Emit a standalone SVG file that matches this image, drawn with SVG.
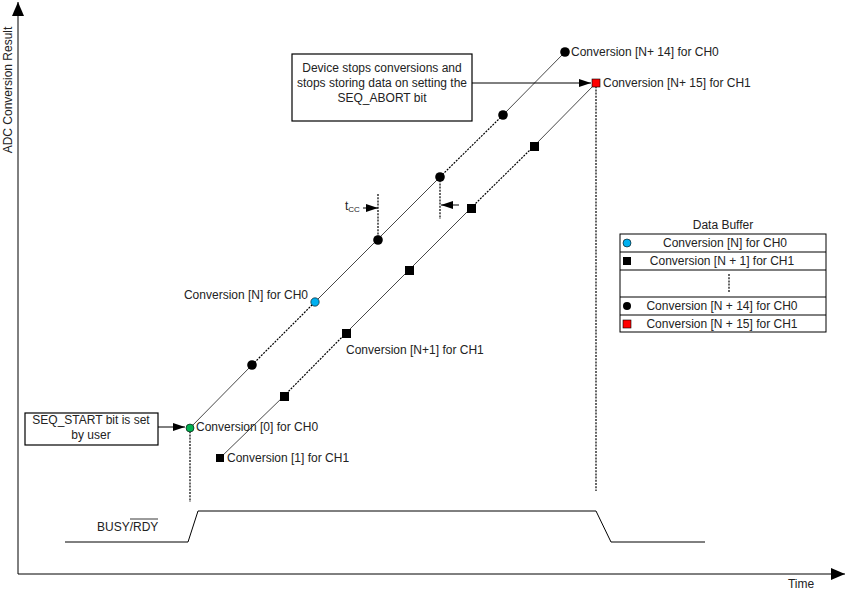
<svg xmlns="http://www.w3.org/2000/svg" width="847" height="593" viewBox="0 0 847 593">
<style>
text{font-family:"Liberation Sans",Arial,sans-serif;font-size:12px;fill:#222}
.ln{stroke:#000;stroke-width:1;fill:none}
.thin{stroke:#333;stroke-width:0.9;fill:none}
.dot{stroke:#000;stroke-width:1.2;stroke-dasharray:2,1.2;fill:none}
.box{fill:#fff;stroke:#000;stroke-width:1.2}
.pt{fill:#000}
</style>
<defs>
<marker id="ah" viewBox="0 0 12 8" refX="12" refY="4" markerWidth="12" markerHeight="8" markerUnits="userSpaceOnUse" orient="auto">
<path d="M0,0 L12,4 L0,8 Z" fill="#000"/>
</marker>
<marker id="ahBig" viewBox="0 0 14 12" refX="14" refY="6" markerWidth="14" markerHeight="12" markerUnits="userSpaceOnUse" orient="auto">
<path d="M0,0 L14,6 L0,12 Z" fill="#000"/>
</marker>
</defs>

<g id="axes">
<line class="ln" x1="18" y1="574" x2="18" y2="2" stroke-width="1.5" marker-end="url(#ahBig)"/>
<line class="ln" x1="18" y1="574" x2="845" y2="574" stroke-width="1.5" marker-end="url(#ahBig)"/>
<text x="9" y="90" text-anchor="middle" transform="rotate(-90 9 90)" dominant-baseline="middle">ADC Conversion Result</text>
<text x="801" y="588" text-anchor="middle">Time</text>
</g>

<g id="connectors">
<!-- CH0 line -->
<line class="thin" x1="190" y1="428" x2="252" y2="365"/>
<line class="dot" x1="252" y1="365" x2="315" y2="302"/>
<line class="thin" x1="315" y1="302" x2="440" y2="177"/>
<line class="dot" x1="440" y1="177" x2="503" y2="115"/>
<line class="thin" x1="503" y1="115" x2="565" y2="52"/>
<!-- CH1 line -->
<line class="thin" x1="220" y1="458" x2="284" y2="396"/>
<line class="dot" x1="284" y1="396" x2="346" y2="333"/>
<line class="thin" x1="346" y1="333" x2="471" y2="208"/>
<line class="dot" x1="471" y1="208" x2="534" y2="146"/>
<line class="thin" x1="534" y1="146" x2="596" y2="83"/>
<!-- verticals -->
<line class="dot" x1="190" y1="428" x2="190" y2="502"/>
<line class="dot" x1="596" y1="83" x2="596" y2="491"/>
<line class="dot" x1="378" y1="194" x2="378" y2="240"/>
<line class="dot" x1="440" y1="177" x2="440" y2="219"/>
<!-- tcc arrows -->
<line class="ln" x1="363" y1="208" x2="378" y2="208" marker-end="url(#ah)"/>
<line class="ln" x1="459" y1="205" x2="441" y2="205" marker-end="url(#ah)"/>
<!-- box arrows -->
<line class="ln" x1="472" y1="83" x2="591" y2="83" marker-end="url(#ah)"/>
<line class="ln" x1="158" y1="427" x2="185" y2="427" marker-end="url(#ah)"/>
<!-- BUSY/RDY waveform -->
<polyline class="ln" points="65,542 188,542 198,511 596,511 611,542 705,542"/>
</g>

<g id="ch0-points">
<circle cx="190" cy="428" r="4" fill="#00b050" stroke="#000" stroke-width="0.6"/>
<circle class="pt" cx="252" cy="365" r="4.8"/>
<circle cx="315" cy="302" r="4.2" fill="#00b0f0" stroke="#000" stroke-width="0.6"/>
<circle class="pt" cx="378" cy="240" r="4.8"/>
<circle class="pt" cx="440" cy="177" r="4.8"/>
<circle class="pt" cx="503" cy="115" r="4.8"/>
<circle class="pt" cx="565" cy="52" r="4.8"/>
</g>

<g id="ch1-points">
<rect class="pt" x="216" y="454" width="8" height="8"/>
<rect class="pt" x="280" y="392" width="9" height="9"/>
<rect class="pt" x="342" y="329" width="9" height="9"/>
<rect class="pt" x="405" y="266" width="9" height="9"/>
<rect class="pt" x="467" y="204" width="9" height="9"/>
<rect class="pt" x="530" y="142" width="9" height="9"/>
<rect x="592" y="79" width="8" height="8" fill="#ff0000" stroke="#000" stroke-width="0.6"/>
</g>

<g id="labels">
<text x="571" y="56">Conversion [N+ 14] for CH0</text>
<text x="603" y="87">Conversion [N+ 15] for CH1</text>
<text x="308" y="299" text-anchor="end">Conversion [N] for CH0</text>
<text x="346" y="354">Conversion [N+1] for CH1</text>
<text x="196" y="431">Conversion [0] for CH0</text>
<text x="227" y="462">Conversion [1] for CH1</text>
<text x="345" y="210">t<tspan font-size="8" dy="2">CC</tspan></text>
<text x="97" y="531">BUSY/RDY</text>
<line x1="130" y1="519" x2="158" y2="519" stroke="#222" stroke-width="0.9"/>
</g>

<g id="abort-box">
<rect class="box" x="292" y="54" width="180" height="67"/>
<text x="382" y="72" text-anchor="middle">Device stops conversions and</text>
<text x="382" y="87" text-anchor="middle">stops storing data on setting the</text>
<text x="382" y="102" text-anchor="middle">SEQ_ABORT bit</text>
</g>

<g id="start-box">
<rect class="box" x="25" y="413" width="133" height="32"/>
<text x="91" y="424" text-anchor="middle">SEQ_START bit is set</text>
<text x="91" y="439" text-anchor="middle">by user</text>
</g>

<g id="data-buffer">
<text x="723" y="229" text-anchor="middle">Data Buffer</text>
<rect x="620" y="234" width="206" height="98" fill="#fff" stroke="#000" stroke-width="1"/>
<line class="ln" x1="620" y1="252" x2="826" y2="252"/>
<line class="ln" x1="620" y1="270" x2="826" y2="270"/>
<line class="ln" x1="620" y1="297" x2="826" y2="297"/>
<line class="ln" x1="620" y1="315" x2="826" y2="315"/>
<line class="dot" x1="729" y1="274" x2="729" y2="292"/>
<circle cx="627" cy="243" r="4" fill="#00b0f0" stroke="#000" stroke-width="0.6"/>
<rect class="pt" x="623" y="257" width="8" height="8"/>
<circle class="pt" cx="627" cy="306" r="4"/>
<rect x="623" y="320" width="8" height="8" fill="#ff0000" stroke="#000" stroke-width="0.6"/>
<text x="725" y="247" text-anchor="middle">Conversion [N] for CH0</text>
<text x="722" y="265" text-anchor="middle">Conversion [N + 1] for CH1</text>
<text x="722" y="310" text-anchor="middle">Conversion [N + 14] for CH0</text>
<text x="722" y="328" text-anchor="middle">Conversion [N + 15] for CH1</text>
</g>
</svg>
